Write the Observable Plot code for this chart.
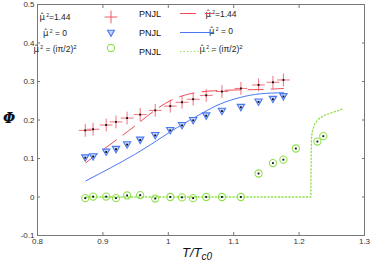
<!DOCTYPE html>
<html><head><meta charset="utf-8">
<script src="https://cdn.jsdelivr.net/npm/d3@7"></script>
<script src="https://cdn.jsdelivr.net/npm/@observablehq/plot@0.6"></script>
<style>body{margin:0;background:#fff} #c{position:relative;width:370px;height:269px}</style>
</head><body><div id="c"></div>
<script>
// Lattice temperatures (T/Tc0)
const T = [0.873, 0.885, 0.905, 0.920, 0.937, 0.957, 0.980, 1.003, 1.021, 1.038, 1.058, 1.082, 1.111, 1.138, 1.160, 1.176];
// Lattice Phi, mu^2 = 1.44 (red crosses)
const phiRed = [0.173, 0.176, 0.187, 0.195, 0.205, 0.214, 0.225, 0.236, 0.246, 0.254, 0.264, 0.274, 0.282, 0.291, 0.298, 0.304];
// Lattice Phi, mu^2 = 0 (blue triangles)
const phiBlue = [0.102, 0.105, 0.117, 0.124, 0.136, 0.148, 0.160, 0.173, 0.186, 0.199, 0.211, 0.223, 0.233, 0.247, 0.254, 0.261];
// Lattice Phi, mu^2 = (i pi/2)^2 (green circles)
const Tgreen = [0.873, 0.885, 0.905, 0.920, 0.937, 0.957, 0.980, 1.003, 1.021, 1.038, 1.058, 1.082, 1.111, 1.138, 1.160, 1.176, 1.195, 1.228, 1.237];
const phiGreen = [-0.003, 0.001, 0.001, -0.003, 0.004, 0.005, -0.004, 0.000, -0.001, -0.003, 0.000, 0.000, 0.000, 0.061, 0.088, 0.097, 0.126, 0.144, 0.158];
// PNJL curves
const pnjlRedT = [0.874, 0.894, 0.926, 0.953, 0.986, 1.022, 1.070, 1.136, 1.176];
const pnjlRedPhi = [0.089, 0.115, 0.155, 0.190, 0.233, 0.263, 0.276, 0.279, 0.282];
const pnjlBlueT = [0.874, 0.912, 0.948, 0.983, 1.014, 1.050, 1.080, 1.111, 1.141, 1.176];
const pnjlBluePhi = [0.042, 0.076, 0.110, 0.147, 0.181, 0.216, 0.242, 0.259, 0.268, 0.271];
const pnjlGreenT = [0.874, 1.000, 1.218, 1.2185, 1.219, 1.2205, 1.224, 1.230, 1.240, 1.250, 1.266];
const pnjlGreenPhi = [0, 0, 0, 0.120, 0.155, 0.173, 0.190, 0.203, 0.213, 0.219, 0.228];
// Ticks
const xTicks = [0.8, 0.9, 1.0, 1.1, 1.2, 1.3];
const yTicks = [-0.1, 0, 0.1, 0.2, 0.3, 0.4, 0.5];

const RED = "#f04a55", BLUE = "#4a78f0", GREEN = "#8fe04c";
const tbl = (xs, ys) => xs.map((x, i) => ({x, y: ys[i]}));
const redPts = tbl(T, phiRed), bluePts = tbl(T, phiBlue), greenPts = tbl(Tgreen, phiGreen);

const triDown = {draw(ctx, size) {
  const r = Math.sqrt(size / Math.PI);
  ctx.moveTo(-r * 1.15, -r * 0.9); ctx.lineTo(r * 1.15, -r * 0.9); ctx.lineTo(0, r * 1.1); ctx.closePath();
}};
const fmt = d => String(Math.round(d * 10) / 10);
const FONT = "Liberation Sans, Arial, sans-serif";

const chart = Plot.plot({
  width: 370, height: 269,
  marginLeft: 37, marginRight: 6, marginTop: 4, marginBottom: 34,
  style: {fontFamily: FONT, fontSize: "8px", color: "#333", background: "#fff"},
  x: {domain: [0.8, 1.3]},
  y: {domain: [-0.1, 0.5]},
  marks: [
    Plot.frame({stroke: "#777", strokeWidth: 1}),
    Plot.axisX({ticks: xTicks, tickFormat: fmt, tickSize: -3, tickPadding: 6, label: null, stroke: "#777"}),
    Plot.axisX({anchor: "top", ticks: xTicks, tickFormat: () => null, tickSize: -3, label: null, stroke: "#777"}),
    Plot.axisY({ticks: yTicks, tickFormat: fmt, tickSize: -3, tickPadding: 6, label: null, stroke: "#777"}),
    Plot.axisY({anchor: "right", ticks: yTicks, tickFormat: () => null, tickSize: -3, label: null, stroke: "#777"}),
    Plot.line(tbl(pnjlGreenT, pnjlGreenPhi), {x: "x", y: "y", stroke: GREEN, strokeWidth: 1.3, strokeDasharray: "1.3,2.2", curve: "linear"}),
    Plot.line(tbl(pnjlBlueT, pnjlBluePhi), {x: "x", y: "y", stroke: BLUE, strokeWidth: 1, curve: "natural"}),
    Plot.line(tbl(pnjlRedT, pnjlRedPhi), {x: "x", y: "y", stroke: RED, strokeWidth: 1, strokeDasharray: "15,8", curve: "natural"}),
    Plot.dot(greenPts, {x: "x", y: "y", r: 3.6, stroke: GREEN, strokeWidth: 1.1, fill: "none"}),
    Plot.dot(bluePts, {x: "x", y: "y", r: 3.2, symbol: triDown, stroke: BLUE, strokeWidth: 1.1, fill: "#c4d4fa"}),
    Plot.dot(redPts, {x: "x", y: "y", r: 4.2, symbol: "plus", stroke: RED, strokeWidth: 0.8}),
    Plot.dot([...redPts, ...bluePts, ...greenPts], {x: "x", y: "y", r: 1.05, symbol: "square", fill: "#111"})
  ]
});
document.getElementById("c").appendChild(chart);

// axis titles and legend
const svg = d3.select(chart);
svg.append("text").attr("x", 9).attr("y", 123).attr("text-anchor", "middle")
  .style("font-family", "DejaVu Serif, serif").style("font-style", "italic").style("font-weight", "bold").style("font-size", "14px").attr("fill", "#111").text("Φ");
const xl = svg.append("text").attr("x", 197).attr("y", 257).attr("text-anchor", "middle")
  .style("font-family", "Liberation Sans, Arial, sans-serif").style("font-style", "italic").style("font-size", "13px").attr("fill", "#111");
xl.append("tspan").text("T/T");
xl.append("tspan").attr("dy", 3).style("font-size", "10px").text("c0");

const legendLabels = ["=1.44", " = 0", " = (i\u03c0/2)"];
const legendColors = [RED, BLUE, GREEN];
function muLabel(x, y, i) {
  const t = svg.append("text").attr("x", x).attr("y", y).style("font-family", FONT).style("font-size", "8.5px").attr("fill", "#222");
  t.append("tspan").style("font-family", "DejaVu Sans, sans-serif").text("\u03bc\u0302");
  t.append("tspan").attr("dy", -3).style("font-size", "5px").text(" 2");
  t.append("tspan").attr("dy", 3).text(legendLabels[i]);
  if (i === 2) t.append("tspan").attr("dy", -3).style("font-size", "6px").text("2");
}
const leftY = [20, 36, 52], rightY = [17, 34, 52], pnjlY = [17, 36, 55];
[0, 1, 2].forEach(i => {
  muLabel(55, leftY[i], i);
  muLabel(221, rightY[i], i);
  svg.append("text").attr("x", 150).attr("y", pnjlY[i]).style("font-family", FONT).style("font-size", "9px").attr("fill", "#111").text("PNJL");
  svg.append("line").attr("x1", 180).attr("x2", 213).attr("y1", pnjlY[i] - 3.5).attr("y2", pnjlY[i] - 3.5)
    .attr("stroke", legendColors[i]).attr("stroke-width", i === 2 ? 1.2 : 1)
    .attr("stroke-dasharray", i === 0 ? "16,9" : i === 2 ? "1.3,2.2" : null);
});
svg.append("path").attr("transform", "translate(111,17)").attr("d", d3.symbol(d3.symbolPlus, 55)()).attr("stroke", RED).attr("stroke-width", 0.9).attr("fill", "none");
svg.append("path").attr("transform", "translate(111,33)").attr("d", d3.symbol(triDown, Math.PI * 9)()).attr("stroke", BLUE).attr("stroke-width", 1.1).attr("fill", "#c4d4fa");
svg.append("circle").attr("cx", 111).attr("cy", 48).attr("r", 3.6).attr("stroke", GREEN).attr("stroke-width", 1.1).attr("fill", "none");
</script></body></html>
